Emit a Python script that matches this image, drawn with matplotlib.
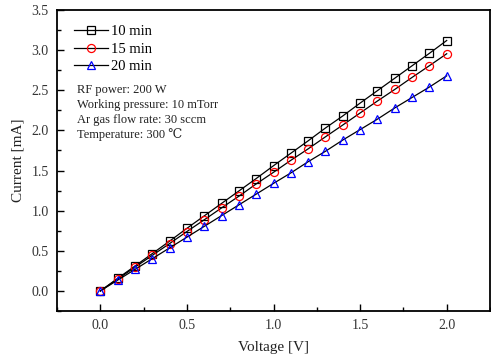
import matplotlib
matplotlib.use('Agg')
import matplotlib.pyplot as plt
from matplotlib.ticker import MultipleLocator, AutoMinorLocator, FormatStrFormatter

plt.rcParams['font.family'] = ['Liberation Serif', 'DejaVu Serif', 'Noto Sans CJK SC']

voltage = [0.0, 0.1, 0.2, 0.3, 0.4, 0.5, 0.6, 0.7, 0.8, 0.9, 1.0,
           1.1, 1.2, 1.3, 1.4, 1.5, 1.6, 1.7, 1.8, 1.9, 2.0]
cur_10 = [0.0, 0.156, 0.31, 0.465, 0.62, 0.78, 0.935, 1.09, 1.245, 1.40, 1.56,
          1.715, 1.87, 2.03, 2.18, 2.34, 2.495, 2.65, 2.805, 2.96, 3.12]
cur_15 = [0.0, 0.148, 0.295, 0.443, 0.59, 0.74, 0.886, 1.034, 1.18, 1.333, 1.478,
          1.627, 1.77, 1.92, 2.067, 2.217, 2.366, 2.51, 2.66, 2.806, 2.955]
cur_20 = [0.0, 0.134, 0.268, 0.402, 0.536, 0.67, 0.804, 0.938, 1.072, 1.206, 1.34,
          1.47, 1.61, 1.74, 1.88, 2.01, 2.14, 2.28, 2.41, 2.54, 2.68]
labels = ['10 min', '15 min', '20 min']
notes = ['RF power: 200 W', 'Working pressure: 10 mTorr',
         'Ar gas flow rate: 30 sccm', 'Temperature: 300 \u2103']

W, H = 491, 361
fig = plt.figure(figsize=(W/100, H/100), dpi=100)
ax = fig.add_axes([57/W, 1 - 311/H, (490-57)/W, (311-10)/H])

styles = [('s', 'black'), ('o', 'red'), ('^', 'blue')]
for ys, lab, (m, c) in zip([cur_10, cur_15, cur_20], labels, styles):
    ax.plot(voltage, ys, color='black', lw=0.9, marker=m, markersize=5.8,
            markerfacecolor='none', markeredgecolor=c, markeredgewidth=0.9, label=lab)

ax.set_xlim(-0.25, 2.25)
ax.set_ylim(-0.25, 3.5)
ax.xaxis.set_major_locator(MultipleLocator(0.5))
ax.yaxis.set_major_locator(MultipleLocator(0.5))
ax.xaxis.set_minor_locator(AutoMinorLocator(2))
ax.yaxis.set_minor_locator(AutoMinorLocator(2))
ax.xaxis.set_major_formatter(FormatStrFormatter('%.1f'))
ax.yaxis.set_major_formatter(FormatStrFormatter('%.1f'))
ax.tick_params(which='both', direction='in', top=False, right=False, labelsize=10,
               width=1.0, pad=6, colors='black', labelcolor='#333333')
ax.tick_params(which='major', length=5)
ax.tick_params(which='minor', length=3)
for s in ax.spines.values():
    s.set_linewidth(1.3)

# axis titles placed in figure pixels
fig.text(273/W, 1 - 347/H, 'Voltage [V]', fontsize=11, ha='center', va='center', color='#222222')
fig.text(18/W, 1 - 160/H, 'Current [mA]', fontsize=11, ha='center', va='center',
         rotation=90, color='#222222')

ax.legend(loc='upper left', bbox_to_anchor=(74/W, 1 - 25/H), bbox_transform=fig.transFigure,
          frameon=False, fontsize=10.5, handlelength=2.3, handletextpad=0.25,
          labelspacing=0.3, borderaxespad=0, borderpad=0)

for i, t in enumerate(notes):
    fig.text(77/W, 1 - (90 + 15*i)/H, t, fontsize=9, va='center', color='#222222')

fig.savefig('out.png', dpi=100)
